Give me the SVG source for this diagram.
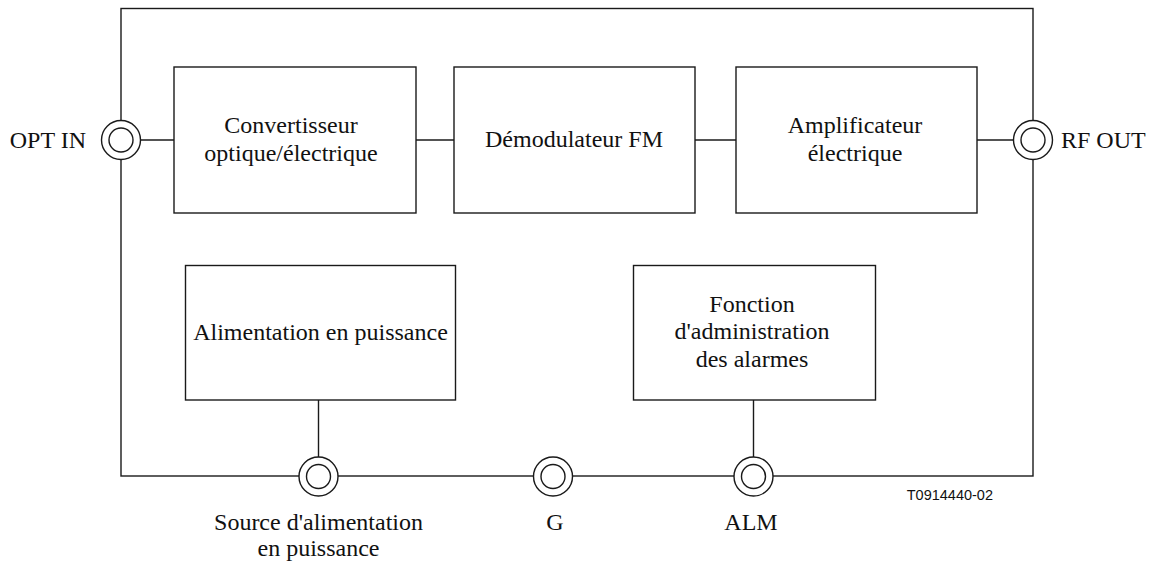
<svg xmlns="http://www.w3.org/2000/svg" width="1157" height="562" viewBox="0 0 1157 562">
  <style>
    .ln { fill: none; stroke: #1a1a1a; stroke-width: 1.4; }
    .box { fill: #ffffff; stroke: #1a1a1a; stroke-width: 1.4; }
    .jack { fill: #ffffff; stroke: #1a1a1a; stroke-width: 1.4; }
    .t { font-family: "Liberation Serif", "Times New Roman", serif; font-size: 24px; fill: #111; text-anchor: middle; }
    .t.end { text-anchor: end; }
    .t.start { text-anchor: start; }
    .ref { font-family: "Liberation Sans", Arial, sans-serif; font-size: 14.5px; fill: #111; text-anchor: end; }
  </style>
  <defs>
    <g id="jack">
      <circle class="jack" r="19.5"/>
      <circle class="jack" r="12"/>
    </g>
  </defs>

  <!-- enclosure and signal wiring -->
  <g id="connectors">
    <rect class="ln" x="121" y="8.5" width="912" height="467.5"/>
    <line class="ln" x1="121" y1="140" x2="174" y2="140"/>
    <line class="ln" x1="416" y1="140" x2="454" y2="140"/>
    <line class="ln" x1="695" y1="140" x2="736" y2="140"/>
    <line class="ln" x1="977" y1="140" x2="1033" y2="140"/>
    <line class="ln" x1="318.5" y1="400" x2="318.5" y2="476"/>
    <line class="ln" x1="753.5" y1="400" x2="753.5" y2="476"/>
  </g>

  <g id="conv">
    <rect class="box" x="174" y="67" width="242" height="146"/>
    <text class="t" x="291" y="133">Convertisseur</text>
    <text class="t" x="291" y="160.5">optique/électrique</text>
  </g>
  <g id="demod">
    <rect class="box" x="454" y="67" width="241" height="146"/>
    <text class="t" x="574" y="147">Démodulateur FM</text>
  </g>
  <g id="ampli">
    <rect class="box" x="736" y="67" width="241" height="146"/>
    <text class="t" x="855" y="133">Amplificateur</text>
    <text class="t" x="855" y="160.5">électrique</text>
  </g>
  <g id="alim">
    <rect class="box" x="185.5" y="265.5" width="270" height="134.5"/>
    <text class="t" x="320.5" y="340">Alimentation en puissance</text>
  </g>
  <g id="alarm">
    <rect class="box" x="633.5" y="265.5" width="242" height="134.5"/>
    <text class="t" x="752" y="311.5">Fonction</text>
    <text class="t" x="752" y="339">d'administration</text>
    <text class="t" x="752" y="366.5">des alarmes</text>
  </g>

  <g id="opt-in">
    <use href="#jack" x="121" y="140"/>
    <text class="t end" x="86" y="148">OPT IN</text>
  </g>
  <g id="rf-out">
    <use href="#jack" x="1033" y="140"/>
    <text class="t start" x="1061" y="148">RF OUT</text>
  </g>
  <g id="power-src">
    <use href="#jack" x="318.5" y="476.5"/>
    <text class="t" x="318.5" y="530">Source d'alimentation</text>
    <text class="t" x="318.5" y="556">en puissance</text>
  </g>
  <g id="ground">
    <use href="#jack" x="553" y="476.5"/>
    <text class="t" x="555" y="530">G</text>
  </g>
  <g id="alm">
    <use href="#jack" x="753.5" y="476.5"/>
    <text class="t" x="751" y="530">ALM</text>
  </g>

  <text class="ref" x="993" y="500">T0914440-02</text>
</svg>
